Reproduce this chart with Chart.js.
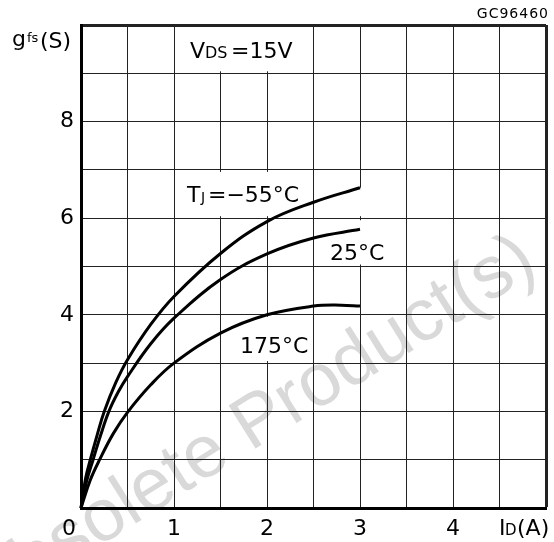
<!DOCTYPE html>
<html>
<head>
<meta charset="utf-8">
<script src="https://cdn.jsdelivr.net/npm/chart.js@4.4.1/dist/chart.umd.min.js"></script>
<style>
  html, body { margin: 0; padding: 0; background: #fff; }
</style>
</head>
<body>
<canvas id="gfs-chart" width="554" height="542"></canvas>
<script>
// gfs vs ID at VDS = 15V, three junction temperatures
const idMinus55 = [0, 0.05, 0.1, 0.175, 0.25, 0.375, 0.5, 0.75, 1.0, 1.5, 2.0, 2.5, 3.0];
const gfsMinus55 = [0, 0.62, 1.0, 1.52, 2.0, 2.6, 3.07, 3.8, 4.38, 5.27, 5.93, 6.33, 6.63];

const id25 = [0, 0.06, 0.13, 0.21, 0.3, 0.4, 0.5, 0.75, 1.0, 1.5, 2.0, 2.5, 3.0];
const gfs25 = [0, 0.55, 1.0, 1.5, 2.0, 2.4, 2.72, 3.4, 3.93, 4.73, 5.26, 5.59, 5.77];

const id175 = [0, 0.1, 0.2, 0.35, 0.5, 0.75, 1.0, 1.5, 2.0, 2.5, 2.8, 3.0];
const gfs175 = [0, 0.58, 1.0, 1.55, 1.98, 2.55, 3.0, 3.62, 4.0, 4.18, 4.2, 4.18];

const xTickLabels = [1, 2, 3, 4];
const yTickLabels = [2, 4, 6, 8];

const FONT = '"DejaVu Sans", Arial, sans-serif';
const WM_FONT = '"Liberation Sans", Arial, sans-serif';

function toPoints(xs, ys) {
    return xs.map((x, i) => ({ x: x, y: ys[i] }));
}

function curve(label, xs, ys) {
    return {
        label: label,
        data: toPoints(xs, ys),
        borderColor: '#000',
        borderWidth: 3,
        pointRadius: 0,
        fill: false,
        tension: 0.4,
        clip: false
    };
}

// draw text pieces on a baseline: [text, x, y, size]
function drawPieces(ctx, pieces) {
    ctx.fillStyle = '#000';
    ctx.textAlign = 'left';
    ctx.textBaseline = 'alphabetic';
    pieces.forEach(p => {
        ctx.font = p[3] + 'px ' + FONT;
        ctx.fillText(p[0], p[1], p[2]);
    });
}

// watermark sits under the grid
const watermark = {
    id: 'watermark',
    beforeDraw(chart) {
        const ctx = chart.ctx;
        ctx.save();
        ctx.translate(250, 428);
        ctx.rotate(-32 * Math.PI / 180);
        ctx.font = '74px ' + WM_FONT;
        ctx.fillStyle = 'rgb(217,217,217)';
        ctx.textAlign = 'center';
        ctx.textBaseline = 'middle';
        ctx.fillText('Obsolete Product(s)', 0, 0);
        ctx.restore();
    }
};

// grid gaps behind labels, then the labels
const labels = {
    id: 'labels',
    beforeDatasetsDraw(chart) {
        const ctx = chart.ctx;
        const xs = chart.scales.x, ys = chart.scales.y;
        const gaps = [[1.5, 9, 10], [2.0, 9, 10], [1.5, 6, 7], [2.0, 6, 7], [3.0, 5, 6.63], [2.0, 3, 4]];
        ctx.save();
        ctx.fillStyle = '#fff';
        gaps.forEach(g => {
            const px = xs.getPixelForValue(g[0]);
            let a = g[1];
            while (a < g[2]) {
                const b = Math.min(Math.floor(a) + 1, g[2]);
                const top = ys.getPixelForValue(b) + (Number.isInteger(b) ? 2 : 0);
                const bot = ys.getPixelForValue(a) - 2;
                ctx.fillRect(px - 1.5, top, 3, bot - top);
                a = b;
            }
        });

        drawPieces(ctx, [
            ['g', 12, 46, 22], ['fs', 27, 42, 13], ['(S)', 40, 48, 22],
            ['V', 190, 58, 22], ['DS', 205, 58, 16], ['=15V', 231, 58, 22],
            ['T', 187, 202, 22], ['J', 201, 202, 14], ['=\u221255\u00b0C', 208, 202, 22],
            ['25\u00b0C', 330, 260, 22],
            ['175\u00b0C', 240, 353, 22],
            ['0', 62, 535, 22],
            ['I', 499, 535, 22], ['D', 505, 535, 15], ['(A)', 517, 535, 22]
        ]);

        ctx.font = '14px ' + FONT;
        ctx.letterSpacing = '1px';
        ctx.textAlign = 'right';
        ctx.fillText('GC96460', 549, 18);
        ctx.restore();
    }
};

const gfsChart = new Chart(document.getElementById('gfs-chart').getContext('2d'), {
    type: 'line',
    data: {
        datasets: [
            curve('TJ=-55°C', idMinus55, gfsMinus55),
            curve('25°C', id25, gfs25),
            curve('175°C', id175, gfs175)
        ]
    },
    options: {
        responsive: false,
        animation: false,
        devicePixelRatio: 1,
        events: [],
        layout: { padding: { left: 0, right: 6, top: 25, bottom: 0 } },
        plugins: {
            legend: { display: false },
            tooltip: { enabled: false }
        },
        scales: {
            x: {
                type: 'linear',
                min: 0,
                max: 5,
                afterFit: s => { s.height = 34; },
                border: { display: true, color: '#000', width: 3 },
                grid: {
                    color: '#222',
                    drawTicks: false,
                    lineWidth: c => (c.tick && c.tick.value === 5 ? 3 : 1)
                },
                ticks: {
                    stepSize: 0.5,
                    autoSkip: false,
                    maxRotation: 0,
                    padding: 8,
                    color: '#000',
                    font: { family: FONT, size: 22 },
                    callback: v => (xTickLabels.includes(v) ? String(v) : '')
                }
            },
            y: {
                type: 'linear',
                min: 0,
                max: 10,
                afterFit: s => { s.width = 81; },
                border: { display: true, color: '#000', width: 3 },
                grid: {
                    color: '#222',
                    drawTicks: false,
                    lineWidth: c => (c.tick && c.tick.value === 10 ? 3 : 1)
                },
                ticks: {
                    stepSize: 1,
                    autoSkip: false,
                    padding: 7,
                    color: '#000',
                    font: { family: FONT, size: 22 },
                    callback: v => (yTickLabels.includes(v) ? String(v) : '')
                }
            }
        }
    },
    plugins: [watermark, labels]
});
</script>
</body>
</html>
